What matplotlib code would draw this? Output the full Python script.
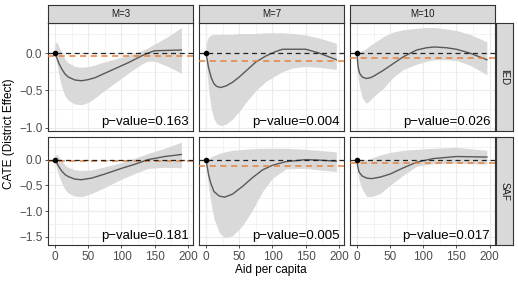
import matplotlib.pyplot as plt
import numpy as np

plt.rcParams['font.family'] = ['Liberation Sans', 'DejaVu Sans']

# facets
rows = ['IED', 'SAF']
cols = ['M=3', 'M=7', 'M=10']
pvals = [['0.163', '0.004', '0.026'],
         ['0.181', '0.005', '0.017']]
orange_level = [[-0.045, -0.10, -0.067],
                [-0.03, -0.12, -0.065]]

# CATE curves (x, estimate)
ied_m3_x = [0, 3, 6, 10, 15, 20, 30, 40, 50, 60, 70, 90, 110, 130, 140, 150, 170, 190]
ied_m3_y = [0, -0.07, -0.14, -0.21, -0.28, -0.32, -0.36, -0.37, -0.355, -0.33, -0.29, -0.21, -0.13, -0.04, 0.0, 0.03, 0.035, 0.04]
ied_m3_lo = [-0.02, -0.15, -0.3, -0.45, -0.57, -0.63, -0.68, -0.69, -0.66, -0.6, -0.53, -0.4, -0.27, -0.15, -0.11, -0.11, -0.18, -0.27]
ied_m3_hi = [0.12, 0.15, 0.08, 0.0, -0.08, -0.13, -0.18, -0.19, -0.18, -0.16, -0.13, -0.08, -0.03, 0.03, 0.07, 0.12, 0.22, 0.34]

ied_m7_x = [0, 2, 4, 8, 12, 16, 22, 30, 40, 50, 60, 75, 90, 105, 115, 130, 150, 170, 196]
ied_m7_y = [0, -0.1, -0.2, -0.33, -0.41, -0.445, -0.46, -0.44, -0.39, -0.32, -0.24, -0.12, -0.04, 0.02, 0.05, 0.05, 0.05, 0.0, -0.09]
ied_m7_lo = [-0.05, -0.3, -0.5, -0.75, -0.88, -0.94, -0.97, -0.95, -0.88, -0.78, -0.66, -0.5, -0.38, -0.3, -0.25, -0.2, -0.18, -0.19, -0.22]
ied_m7_hi = [0.1, 0.18, 0.22, 0.24, 0.25, 0.25, 0.25, 0.25, 0.25, 0.26, 0.26, 0.26, 0.27, 0.27, 0.27, 0.26, 0.24, 0.2, 0.13]

ied_m10_x = [0, 1, 2, 4, 8, 14, 20, 25, 40, 55, 70, 90, 105, 117, 135, 150, 170, 196]
ied_m10_y = [0, -0.12, -0.2, -0.27, -0.32, -0.34, -0.33, -0.31, -0.23, -0.14, -0.05, 0.04, 0.07, 0.08, 0.07, 0.05, 0.0, -0.09]
ied_m10_lo = [-0.05, -0.25, -0.35, -0.45, -0.6, -0.67, -0.63, -0.58, -0.47, -0.32, -0.22, -0.15, -0.11, -0.09, -0.09, -0.1, -0.16, -0.29]
ied_m10_hi = [0.05, 0.04, 0.03, 0.02, 0.03, 0.06, 0.1, 0.13, 0.22, 0.28, 0.31, 0.33, 0.34, 0.34, 0.32, 0.3, 0.25, 0.15]

saf_m3_x = [0, 3, 6, 10, 15, 20, 30, 40, 55, 75, 100, 120, 140, 165, 190]
saf_m3_y = [0, -0.07, -0.14, -0.22, -0.29, -0.33, -0.38, -0.39, -0.36, -0.28, -0.17, -0.09, 0.0, 0.06, 0.1]
saf_m3_lo = [-0.03, -0.2, -0.32, -0.45, -0.58, -0.65, -0.71, -0.72, -0.66, -0.54, -0.38, -0.27, -0.17, -0.15, -0.16]
saf_m3_hi = [0.08, 0.1, 0.05, -0.02, -0.1, -0.15, -0.2, -0.21, -0.2, -0.14, -0.06, 0.03, 0.12, 0.22, 0.34]

saf_m7_x = [0, 2, 4, 7, 12, 20, 28, 40, 55, 70, 85, 100, 120, 150, 170, 196]
saf_m7_y = [0, -0.15, -0.3, -0.45, -0.62, -0.71, -0.73, -0.67, -0.52, -0.35, -0.2, -0.11, -0.04, 0.0, -0.01, -0.03]
saf_m7_lo = [-0.05, -0.3, -0.55, -0.8, -1.15, -1.42, -1.52, -1.48, -1.28, -0.98, -0.62, -0.36, -0.18, -0.17, -0.2, -0.23]
saf_m7_hi = [0.05, 0.0, 0.02, 0.05, 0.08, 0.12, 0.15, 0.18, 0.2, 0.21, 0.22, 0.22, 0.22, 0.2, 0.18, 0.15]

saf_m10_x = [0, 1, 3, 8, 15, 22, 35, 50, 70, 90, 115, 150, 196]
saf_m10_y = [0, -0.12, -0.24, -0.32, -0.36, -0.37, -0.34, -0.28, -0.16, -0.05, 0.02, 0.06, 0.05]
saf_m10_lo = [-0.05, -0.2, -0.38, -0.58, -0.72, -0.72, -0.66, -0.5, -0.3, -0.13, -0.08, -0.07, -0.09]
saf_m10_hi = [0.05, 0.03, 0.0, -0.01, 0.0, 0.03, 0.09, 0.14, 0.18, 0.2, 0.22, 0.24, 0.18]

curves = [[(ied_m3_x, ied_m3_y, ied_m3_lo, ied_m3_hi),
           (ied_m7_x, ied_m7_y, ied_m7_lo, ied_m7_hi),
           (ied_m10_x, ied_m10_y, ied_m10_lo, ied_m10_hi)],
          [(saf_m3_x, saf_m3_y, saf_m3_lo, saf_m3_hi),
           (saf_m7_x, saf_m7_y, saf_m7_lo, saf_m7_hi),
           (saf_m10_x, saf_m10_y, saf_m10_lo, saf_m10_hi)]]

ylims = [(-1.04, 0.40), (-1.66, 0.43)]
yticks = [[0.0, -0.5, -1.0], [0.0, -0.5, -1.0, -1.5]]
xticks = [0, 50, 100, 150, 200]

W, H = 518, 281
fig = plt.figure(figsize=(W / 100, H / 100), dpi=100)

def box(x0, y0, x1, y1):
    return [x0 / W, 1 - y1 / H, (x1 - x0) / W, (y1 - y0) / H]

col_px = [(48, 193), (199, 344), (350, 494.5)]
row_px = [(23, 131), (137.5, 245)]
edge = '#333333'
grid = '#EBEBEB'
strip_bg = '#D9D9D9'
txt = '#4D4D4D'

for r in range(2):
    for c in range(3):
        x0, x1 = col_px[c]
        y0, y1 = row_px[r]
        ax = fig.add_axes(box(x0, y0, x1, y1))
        xs, ys, lo, hi = curves[r][c]
        ax.fill_between(xs, lo, hi, color='#D9D9D9', lw=0, zorder=1)
        ax.plot(xs, ys, color='#595959', lw=1.0, zorder=2)
        ax.axhline(orange_level[r][c], color='#E5813A', ls=(0, (4, 3)), lw=1.1, zorder=3)
        ax.axhline(0, color='#222222', ls=(0, (4, 3)), lw=0.9, zorder=3)
        ax.errorbar([0], [0], yerr=[0.03], fmt='o', color='black', ms=3,
                    elinewidth=1, capsize=0, zorder=4)
        ax.text(0.97, 0.03, 'p\u2212value=' + pvals[r][c], transform=ax.transAxes,
                ha='right', va='bottom', fontsize=9.5, color='black', zorder=5)
        ax.set_xlim(-10.5, 207.5)
        ax.set_ylim(*ylims[r])
        ax.set_xticks(xticks)
        ax.set_xticks([25, 75, 125, 175], minor=True)
        ax.set_yticks(yticks[r])
        ax.set_yticks([0.25, -0.25, -0.75, -1.25][:len(yticks[r])], minor=True)
        ax.grid(True, which='major', color=grid, lw=0.8, zorder=0)
        ax.grid(True, which='minor', color=grid, lw=0.4, zorder=0)
        ax.set_axisbelow(True)
        for s in ax.spines.values():
            s.set_color(edge)
            s.set_linewidth(0.8)
        ax.tick_params(which='minor', length=0)
        ax.tick_params(which='major', length=2.5, color=edge, width=0.6,
                       labelsize=8.5, labelcolor=txt, pad=1.5)
        if c == 0:
            ax.set_yticklabels([f'{v:.1f}'.replace('-', '\u2212') for v in yticks[r]])
        else:
            ax.tick_params(axis='y', length=0, labelleft=False)
        if r == 1:
            ax.set_xticklabels([str(v) for v in xticks])
        else:
            ax.tick_params(axis='x', length=0, labelbottom=False)

        # top strips
        if r == 0:
            sax = fig.add_axes(box(x0, 5, x1, 23))
            sax.set_facecolor(strip_bg)
            sax.set_xticks([]); sax.set_yticks([])
            for s in sax.spines.values():
                s.set_color(edge); s.set_linewidth(0.8)
            sax.text(0.5, 0.5, cols[c], ha='center', va='center', fontsize=7,
                     color='#1A1A1A', transform=sax.transAxes)
        # right strips
        if c == 2:
            sax = fig.add_axes(box(496, y0, 512.5, y1))
            sax.set_facecolor(strip_bg)
            sax.set_xticks([]); sax.set_yticks([])
            for s in sax.spines.values():
                s.set_color(edge); s.set_linewidth(0.8)
            sax.text(0.5, 0.5, rows[r], ha='center', va='center', fontsize=7,
                     rotation=-90, color='#1A1A1A', transform=sax.transAxes)

fig.text(271 / W, 1 - 270 / H, 'Aid per capita', ha='center', va='center', fontsize=8.5)
fig.text(9 / W, 1 - 134 / H, 'CATE (District Effect)', ha='center', va='center',
         rotation=90, fontsize=8.5)

fig.savefig('out.png', dpi=100)
